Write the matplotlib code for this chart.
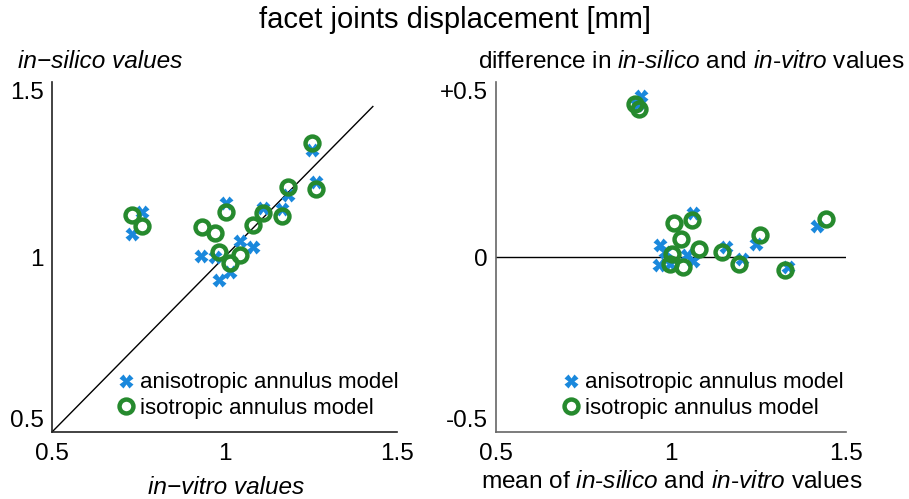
import numpy as np
import matplotlib
matplotlib.use('Agg')
import matplotlib.pyplot as plt

plt.rcParams['font.family'] = ['Liberation Sans', 'DejaVu Sans']
plt.rcParams['mathtext.fontset'] = 'custom'
plt.rcParams['mathtext.rm'] = 'Liberation Sans'
plt.rcParams['mathtext.it'] = 'Liberation Sans:italic'

# left panel: in-vitro vs in-silico
aniso_vitro = [0.733, 0.762, 0.933, 0.973, 0.985, 1.003, 1.017, 1.044, 1.084, 1.111, 1.168, 1.183, 1.253, 1.264]
aniso_silico = [1.066, 1.129, 1.003, 1.000, 0.934, 1.154, 0.957, 1.046, 1.029, 1.140, 1.137, 1.177, 1.306, 1.214]
iso_vitro = [0.733, 0.762, 0.934, 0.973, 0.985, 1.003, 1.017, 1.044, 1.084, 1.111, 1.168, 1.183, 1.253, 1.264]
iso_silico = [1.120, 1.089, 1.086, 1.069, 1.014, 1.129, 0.983, 1.006, 1.091, 1.126, 1.117, 1.200, 1.326, 1.194]
identity_line = [0.5, 1.43]

# right panel: mean vs difference
aniso_mean = [0.914, 0.903, 0.969, 0.983, 0.966, 0.997, 1.046, 1.063, 1.063, 1.157, 1.203, 1.243, 1.334, 1.417]
aniso_diff = [0.460, 0.434, 0.034, 0.014, -0.023, -0.020, 0.006, -0.011, 0.126, 0.029, -0.006, 0.037, -0.029, 0.089]
iso_mean = [0.897, 0.909, 1.009, 1.060, 1.029, 1.003, 0.997, 1.034, 1.080, 1.146, 1.194, 1.254, 1.326, 1.443]
iso_diff = [0.437, 0.422, 0.098, 0.106, 0.052, 0.009, -0.020, -0.029, 0.023, 0.014, -0.020, 0.063, -0.037, 0.109]
zero_line = [0.5, 1.5]

xticks = [0.5, 1, 1.5]
xticklabels = ['0.5', '1', '1.5']
left_yticks = [0.5, 1, 1.5]
left_yticklabels = ['0.5', '1', '1.5']
right_yticks = [-0.5, 0, 0.5]
right_yticklabels = ['-0.5', '0', '+0.5']

blue = '#1a88dc'
green = '#268a2e'
fs = 16
tfs = 17.5
lfs = 17.6

fig = plt.figure(figsize=(9.09, 4.99), dpi=100)
ax1 = fig.add_axes([52/909, 67/499, 345/909, 350/499])
ax2 = fig.add_axes([496/909, 67/499, 350/909, 350/499])

def style(ax, spine_color):
    for s in ['top', 'right']:
        ax.spines[s].set_visible(False)
    for s in ['left', 'bottom']:
        ax.spines[s].set_color(spine_color)
        ax.spines[s].set_linewidth(1.2)
    ax.tick_params(length=0, labelsize=tfs)
    ax.tick_params(axis='y', pad=6)
    ax.tick_params(axis='x', pad=8)
    ax.set_facecolor('none')

ax1.plot(identity_line, identity_line, color='black', lw=1, zorder=1)
ax1.plot(aniso_vitro, aniso_silico, 'X', ms=10, color=blue, mec='none', ls='none', label='anisotropic annulus model', zorder=2)
ax1.plot(iso_vitro, iso_silico, 'o', ms=10, mfc='none', mec=green, mew=3.2, ls='none', label='isotropic annulus model', zorder=3)
ax1.set_xlim(0.5, 1.5)
ax1.set_ylim(0.5, 1.5)
ax1.set_xticks(xticks, xticklabels)
ax1.set_yticks(left_yticks, left_yticklabels)
style(ax1, '#222222')

ax2.plot(zero_line, [0, 0], color='black', lw=1, zorder=1)
ax2.plot(aniso_mean, aniso_diff, 'X', ms=10, color=blue, mec='none', ls='none', label='anisotropic annulus model', zorder=2)
ax2.plot(iso_mean, iso_diff, 'o', ms=10, mfc='none', mec=green, mew=3.2, ls='none', label='isotropic annulus model', zorder=3)
ax2.set_xlim(0.5, 1.5)
ax2.set_ylim(-0.5, 0.5)
ax2.set_xticks(xticks, xticklabels)
ax2.set_yticks(right_yticks, right_yticklabels)
style(ax2, '#666666')

for ax in [ax1, ax2]:
    labs = ax.get_yticklabels()
    labs[0].set_va('bottom')
    labs[-1].set_va('top')
    ax.legend(loc='lower left', bbox_to_anchor=(0.15, 0.012), frameon=False, fontsize=fs,
              handletextpad=0.05, labelspacing=0.2, borderaxespad=0, handlelength=1.2)

fig.text(455/909, 1 - 20/499, 'facet joints displacement [mm]', ha='center', va='center', fontsize=21)
fig.text(18/909, 1 - 62/499, 'in\u2212silico values', ha='left', va='center', fontsize=lfs, style='italic')
fig.text(905/909, 1 - 62/499, 'difference in $\\mathit{in}$-$\\mathit{silico}$ and $\\mathit{in}$-$\\mathit{vitro}$ values',
         ha='right', va='center', fontsize=lfs)
fig.text(226/909, 1 - 487/499, 'in\u2212vitro values', ha='center', va='center', fontsize=lfs, style='italic')
fig.text(672/909, 1 - 482/499, 'mean of $\\mathit{in}$-$\\mathit{silico}$ and $\\mathit{in}$-$\\mathit{vitro}$ values',
         ha='center', va='center', fontsize=lfs)

fig.savefig('out.png', dpi=100)
